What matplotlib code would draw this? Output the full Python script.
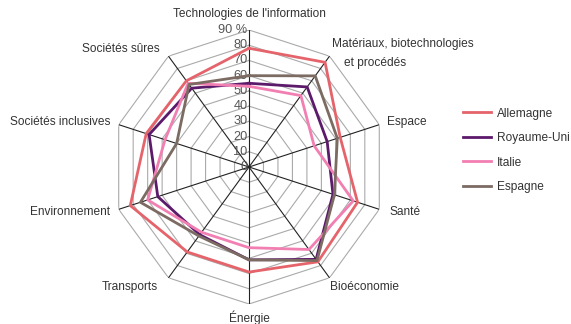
import matplotlib.pyplot as plt
import numpy as np

plt.rcParams['font.family'] = ['Liberation Sans', 'DejaVu Sans']

categories = ["Technologies de l'information", "Matériaux, biotechnologies et procédés",
              "Espace", "Santé", "Bioéconomie", "Énergie", "Transports",
              "Environnement", "Sociétés inclusives", "Sociétés sûres"]
countries = ["Allemagne", "Royaume-Uni", "Italie", "Espagne"]
allemagne = [78, 85, 63, 75, 77, 69, 69, 82, 71, 70]
royaume_uni = [55, 65, 54, 58, 75, 61, 55, 63, 69, 64]
italie = [53, 58, 45, 72, 67, 53, 53, 70, 58, 68]
espagne = [60, 74, 61, 59, 76, 61, 56, 75, 50, 67]
ticks = [0, 10, 20, 30, 40, 50, 60, 70, 80, 90]

colors = ['#e5646b', '#5c1a6b', '#f27fb2', '#7b6b62']
W, H = 571, 324
FS = 8.6

fig = plt.figure(figsize=(W / 100, H / 100), dpi=100)
ax = fig.add_axes([(249 - 137) / W, (H - 167 - 137) / H, 274 / W, 274 / H], projection='polar')
ax.set_theta_zero_location('N')
ax.set_theta_direction(-1)
ax.set_ylim(0, 90)
ax.axis('off')

n = len(categories)
theta = np.arange(n) * 2 * np.pi / n
closed = np.append(theta, theta[0])

# polygon rings and spokes
for t in ticks[1:]:
    ax.plot(closed, [t] * (n + 1), color='#aaaaaa', lw=0.8, zorder=1)
for a in theta:
    ax.plot([a, a], [0, 90], color='#222222', lw=0.8, zorder=2)

for t in ticks:
    lab = '90 %' if t == 90 else str(t)
    ax.annotate(lab, (0, t), xytext=(-1, 0), textcoords='offset points',
                ha='right', va='center', fontsize=FS + 0.6, color='#555555', zorder=3)

series = [allemagne, royaume_uni, italie, espagne]
for name, vals, c in zip(countries, series, colors):
    ax.plot(closed, vals + vals[:1], color=c, lw=2, label=name, zorder=4)


def px(x, y):
    return x / W, 1 - y / H


txt = dict(fontsize=FS, color='#333333', va='center')
fig.text(*px(249, 14), categories[0], ha='center', **txt)
fig.text(*px(332, 44), "Matériaux, biotechnologies", ha='left', **txt)
fig.text(*px(344, 63), "et procédés", ha='left', **txt)
fig.text(*px(387, 122), categories[2], ha='left', **txt)
fig.text(*px(389, 212), categories[3], ha='left', **txt)
fig.text(*px(330, 287), categories[4], ha='left', **txt)
fig.text(*px(249, 318), categories[5], ha='center', **txt)
fig.text(*px(158, 287), categories[6], ha='right', **txt)
fig.text(*px(110, 212), categories[7], ha='right', **txt)
fig.text(*px(110, 122), categories[8], ha='right', **txt)
fig.text(*px(160, 49), categories[9], ha='right', **txt)

fig.legend(loc='upper left', bbox_to_anchor=px(453, 98), frameon=False,
           fontsize=FS, handlelength=2.4, handletextpad=0.5, labelspacing=1.05,
           borderpad=0.3, labelcolor='#333333')

fig.savefig('out.png', dpi=100)
